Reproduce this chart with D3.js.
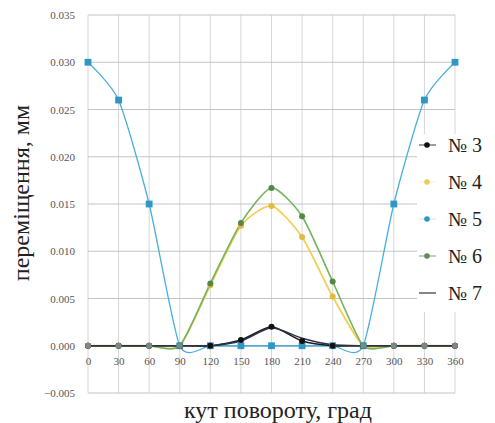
<!DOCTYPE html>
<html>
<head>
<meta charset="utf-8">
<script src="https://cdn.jsdelivr.net/npm/d3@7"></script>
<style>
  body { margin: 0; background: #fff; }
  text { font-family: "Liberation Serif", "DejaVu Serif", serif; }
</style>
</head>
<body>
<div id="chart"></div>
<script>
// angles and displacement series (mm)
var angles = [0, 30, 60, 90, 120, 150, 180, 210, 240, 270, 300, 330, 360];
var s3 = [0, 0, 0, 0, 0, 0.0006, 0.002, 0.0005, 0, 0, 0, 0, 0];
var s4 = [0, 0, 0, 0, 0.0064, 0.0127, 0.0148, 0.0115, 0.0052, 0, 0, 0, 0];
var s5 = [0.030, 0.026, 0.015, 0, 0, 0, 0, 0, 0, 0, 0.015, 0.026, 0.030];
var s6 = [0, 0, 0, 0, 0.0066, 0.013, 0.0167, 0.0137, 0.0068, 0, 0, 0, 0];
var s7 = [0, 0, 0, 0, 0, 0.0005, 0.0019, 0.0008, 0.0001, 0, 0, 0, 0];
var yTicks = [-0.005, 0, 0.005, 0.010, 0.015, 0.020, 0.025, 0.030, 0.035];
var legendNames = ["№ 3", "№ 4", "№ 5", "№ 6", "№ 7"];

var serif = "'Liberation Serif', 'DejaVu Serif', serif";
var width = 495, height = 423;

var svg = d3.select("#chart")
  .append("svg")
    .attr("width", width)
    .attr("height", height);

var x = d3.scaleLinear().domain([0, 360]).range([88, 455]);
var y = d3.scaleLinear().domain([-0.005, 0.035]).range([393, 15]);

// grid
svg.append("g")
  .selectAll("line")
  .data(angles)
  .enter()
  .append("line")
    .attr("x1", function(d) { return x(d); })
    .attr("x2", function(d) { return x(d); })
    .attr("y1", y(0.035))
    .attr("y2", y(-0.005))
    .style("stroke", "#d6d6d6")
    .style("stroke-width", 1);

svg.append("g")
  .selectAll("line")
  .data(yTicks)
  .enter()
  .append("line")
    .attr("x1", x(0))
    .attr("x2", x(360))
    .attr("y1", function(d) { return y(d); })
    .attr("y2", function(d) { return y(d); })
    .style("stroke", function(d) { return d == 0 ? "#8a8a8a" : "#c4c4c4"; })
    .style("stroke-width", function(d) { return d == 0 ? 1.4 : 1; });

// y axis labels
var yAxis = d3.axisLeft(y).tickValues(yTicks).tickSize(0).tickPadding(0)
  .tickFormat(function(d) { return d3.format(".3f")(d); });
svg.append("g")
  .attr("transform", "translate(75,0)")
  .call(yAxis)
  .attr("font-family", serif)
  .attr("font-size", 11)
  .call(function(g) { g.select(".domain").remove(); })
  .selectAll("text")
    .style("fill", "#555");

// x axis labels at the zero line
var xAxis = d3.axisBottom(x).tickValues(angles).tickSize(0).tickPadding(0)
  .tickFormat(function(d) { return d; });
svg.append("g")
  .attr("transform", "translate(0," + (y(0) + 11) + ")")
  .call(xAxis)
  .attr("font-family", serif)
  .attr("font-size", 11)
  .call(function(g) { g.select(".domain").remove(); })
  .selectAll("text")
    .style("fill", "#555");

var line = d3.line()
  .x(function(d, i) { return x(angles[i]); })
  .y(function(d) { return y(d); })
  .curve(d3.curveCardinal.tension(0.35));

var series = [
  {name: "№ 5", data: s5, color: "#4aaedc", mark: "#2f97c4", w: 1.3, r: 3.4, sq: true},
  {name: "№ 4", data: s4, color: "#f2cf55", mark: "#e2bb3c", w: 1.8, r: 3},
  {name: "№ 6", data: s6, color: "#74b25c", mark: "#55874a", w: 1.6, r: 3},
  {name: "№ 3", data: s3, color: "#1a1a1a", mark: "#111", w: 1.5, r: 3},
  {name: "№ 7", data: s7, color: "#2b3346", mark: null, w: 1.5, r: 0}
];

series.forEach(function(s) {
  svg.append("path")
    .datum(s.data)
    .attr("d", line)
    .attr("fill", "none")
    .attr("stroke", s.color)
    .attr("stroke-width", s.w);
});

series.forEach(function(s) {
  if (!s.mark) return;
  var g = svg.append("g");
  if (s.sq) {
    g.selectAll("rect")
      .data(s.data)
      .enter()
      .append("rect")
        .attr("x", function(d, i) { return x(angles[i]) - s.r; })
        .attr("y", function(d) { return y(d) - s.r; })
        .attr("width", s.r * 2)
        .attr("height", s.r * 2)
        .attr("fill", s.mark);
  } else {
    g.selectAll("circle")
      .data(s.data)
      .enter()
      .append("circle")
        .attr("cx", function(d, i) { return x(angles[i]); })
        .attr("cy", function(d) { return y(d); })
        .attr("r", s.r)
        .attr("fill", s.mark);
  }
});

// zero-line markers drawn greyish on top (overlapping series)
svg.append("g")
  .selectAll("circle")
  .data(angles.filter(function(a, i) { return s5[i] != 0 || a == 90 || a == 270; }))
  .enter()
  .append("circle")
    .attr("cx", function(d) { return x(d); })
    .attr("cy", y(0))
    .attr("r", 3)
    .attr("fill", "#7c8a86");

// legend
svg.append("rect")
  .attr("x", 417)
  .attr("y", 134)
  .attr("width", 78)
  .attr("height", 178)
  .attr("fill", "#fff");

var legColors = {"№ 3": "#111", "№ 4": "#eccb5a", "№ 5": "#2f97c4", "№ 6": "#5e8a55", "№ 7": "#2b3346"};
var leg = svg.append("g")
  .selectAll("g")
  .data(legendNames)
  .enter()
  .append("g")
    .attr("transform", function(d, i) { return "translate(0," + (145 + i * 37) + ")"; });

leg.append("line")
  .attr("x1", 419)
  .attr("x2", 436)
  .attr("y1", 0)
  .attr("y2", 0)
  .attr("stroke", function(d) { return legColors[d]; })
  .attr("stroke-width", function(d) { return d == "№ 7" ? 1.5 : 1; })
  .attr("opacity", function(d) { return d == "№ 4" || d == "№ 5" ? 0.25 : 0.8; });

leg.filter(function(d) { return d != "№ 7"; })
  .append("circle")
    .attr("cx", 427)
    .attr("cy", 0)
    .attr("r", 2.8)
    .attr("fill", function(d) { return legColors[d]; });

leg.append("text")
  .attr("x", 448)
  .attr("y", 7)
  .style("font-family", serif)
  .style("font-size", "20px")
  .style("fill", "#222")
  .text(function(d) { return d; });

// axis titles
svg.append("text")
  .attr("x", 278)
  .attr("y", 418)
  .attr("text-anchor", "middle")
  .style("font-family", serif)
  .style("font-size", "24px")
  .style("fill", "#222")
  .text("кут повороту, град");

svg.append("text")
  .attr("transform", "translate(29,193) rotate(-90)")
  .attr("text-anchor", "middle")
  .style("font-family", serif)
  .style("font-size", "24px")
  .style("fill", "#222")
  .text("переміщення, мм");
</script>
</body>
</html>
